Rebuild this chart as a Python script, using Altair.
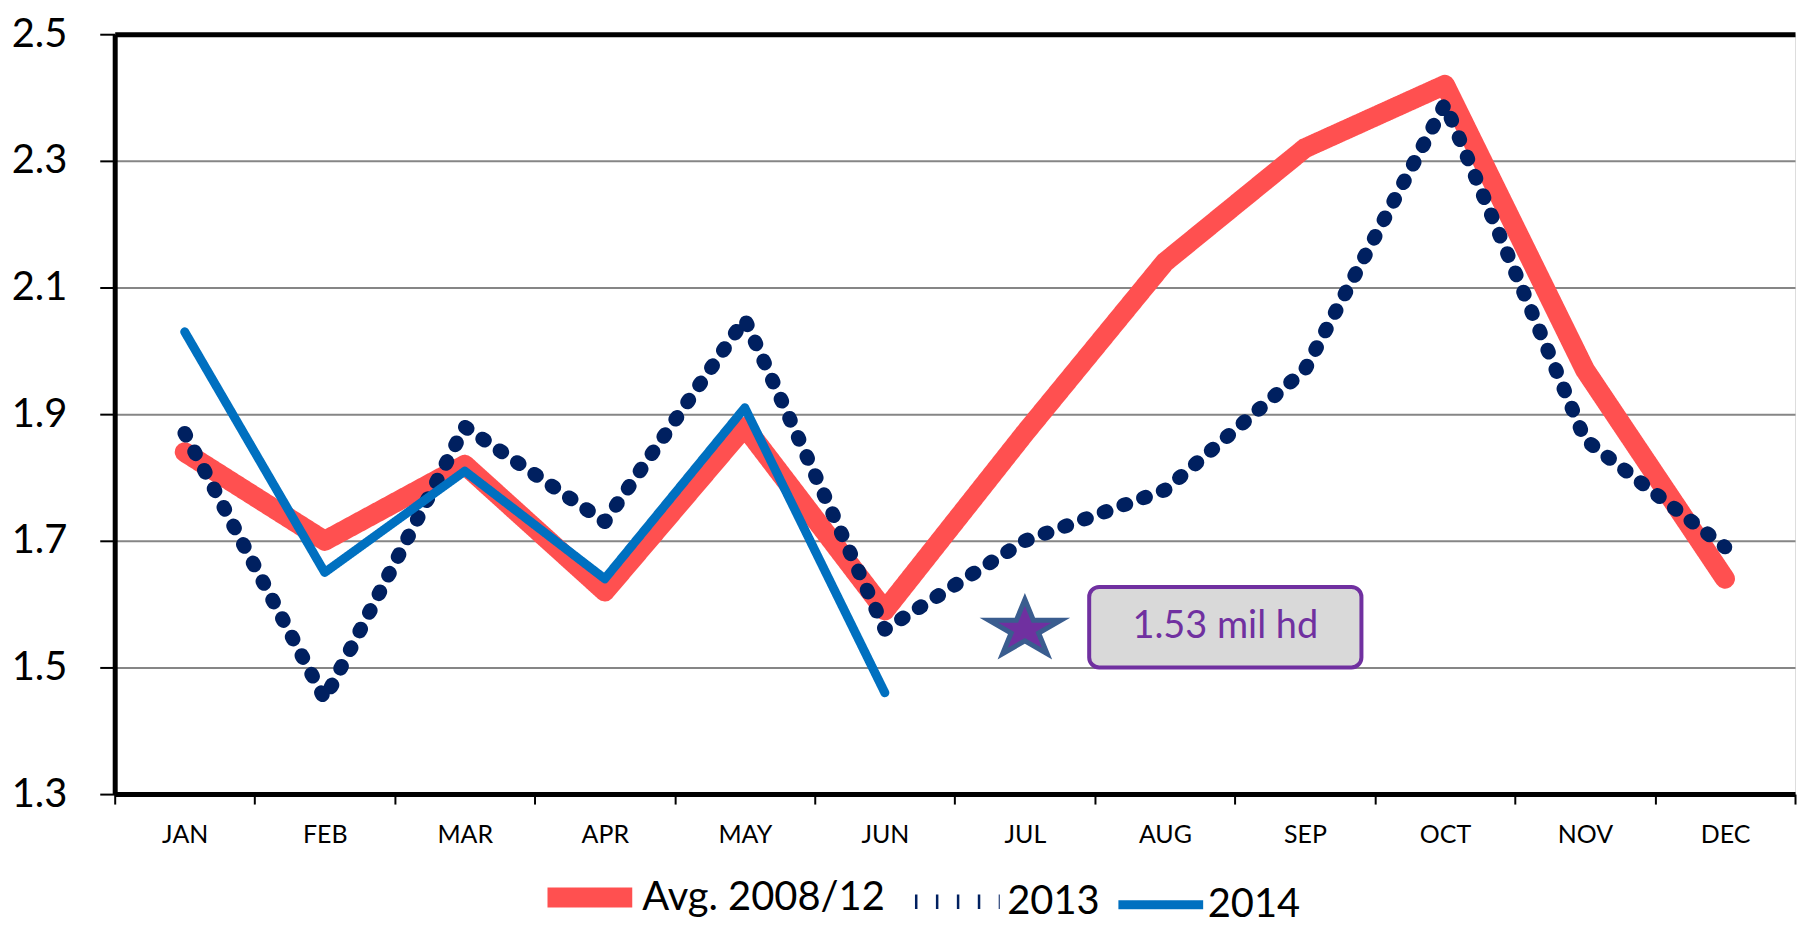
import altair as alt
import pandas as pd

months = ["JAN", "FEB", "MAR", "APR", "MAY", "JUN", "JUL", "AUG", "SEP", "OCT", "NOV", "DEC"]
avg_2008_12 = [1.84, 1.70, 1.82, 1.62, 1.88, 1.59, 1.87, 2.14, 2.32, 2.42, 1.97, 1.64]
y2013 = [1.87, 1.45, 1.88, 1.73, 2.05, 1.56, 1.70, 1.78, 1.97, 2.39, 1.86, 1.69]
y2014 = [2.03, 1.65, 1.81, 1.64, 1.91, 1.46]
series_names = ["Avg. 2008/12", "2013", "2014"]
series_colors = ["#FF5050", "#002060", "#0070C0"]
series_widths = [20, 9, 6]
y_ticks = [1.3, 1.5, 1.7, 1.9, 2.1, 2.3, 2.5]

star_month = "JUL"
star_value = 1.56
note_text = "1.53 mil hd"
note_low = 1.50
note_high = 1.627

rows = []
for name, vals in zip(series_names, [avg_2008_12, y2013, y2014]):
    for m, v in zip(months, vals):
        rows.append({"month": m, "value": v, "series": name})
df = pd.DataFrame(rows)

star_df = pd.DataFrame({"month": [star_month], "value": [star_value]})
note_df = pd.DataFrame({"month": [star_month], "low": [note_low], "high": [note_high],
                        "mid": [(note_low + note_high) / 2], "label": [note_text]})

FONT = "Lato"

x_enc = alt.X("month:N", sort=months, scale=alt.Scale(type="band", domain=months, paddingInner=0, paddingOuter=0),
              axis=alt.Axis(title=None, labelAngle=0, tickBand="extent", labelFont=FONT, labelFontSize=25,
                            labelColor="black", tickColor="black", tickWidth=2, tickSize=10, labelPadding=19,
                            domainColor="black", domainWidth=5, grid=False))
y_scale = alt.Scale(domain=[1.3, 2.5], nice=False, zero=False)
y_enc = alt.Y("value:Q", scale=y_scale,
              axis=alt.Axis(title=None, values=y_ticks, format=".1f", labelFont=FONT, labelFontSize=40,
                            labelColor="black", tickColor="black", tickWidth=2, tickSize=15, labelPadding=33,
                            domainColor="black", domainWidth=5,
                            gridColor=alt.condition("datum.value >= 2.5", alt.value("black"), alt.value("#868686")),
                            gridWidth=alt.condition("datum.value >= 2.5", alt.value(5), alt.value(2))))

legend = alt.Legend(title=None, orient="none", legendX=424, legendY=813, direction="horizontal",
                    labelFont=FONT, labelFontSize=40, labelColor="black", symbolType="stroke",
                    symbolSize=7225, labelOffset=0, columnPadding=0, labelLimit=0)

color_enc = alt.Color("series:N", scale=alt.Scale(domain=series_names, range=series_colors), legend=legend)
dash_enc = alt.StrokeDash("series:N", scale=alt.Scale(domain=series_names, range=[[1, 0], [2.5, 18.5], [1, 0]]),
                          legend=legend)
width_enc = alt.StrokeWidth("series:N", scale=alt.Scale(domain=series_names, range=series_widths), legend=legend)

base = alt.Chart(df)
layers = []
for name in series_names:
    layers.append(
        base.transform_filter(alt.datum.series == name)
        .mark_line(strokeCap="round", strokeJoin="round")
        .encode(x=x_enc, y=y_enc, color=color_enc, strokeDash=dash_enc, strokeWidth=width_enc)
    )

star_path = ("M0,-0.831L0.236,-0.257L1,-0.257L0.382,0.098L0.618,0.672L0,0.317L-0.618,0.672"
             "L-0.382,0.098L-1,-0.257L-0.236,-0.257Z")
star = alt.Chart(star_df).mark_point(shape=star_path, size=5200, filled=True, fill="#7030A0",
                                     stroke="#3A5D8F", strokeWidth=5, opacity=1).encode(
    x=alt.X("month:N", sort=months), y=alt.Y("value:Q"))

box = alt.Chart(note_df).mark_bar(width=273, xOffset=201, cornerRadius=10, fill="#D9D9D9",
                                  stroke="#7030A0", strokeWidth=4).encode(
    x=alt.X("month:N", sort=months), y=alt.Y("low:Q"), y2="high:Q")
txt = alt.Chart(note_df).mark_text(dx=201, font=FONT, fontSize=38, color="#7030A0").encode(
    x=alt.X("month:N", sort=months), y=alt.Y("mid:Q"), text="label:N")

chart = alt.layer(*layers, star, box, txt).properties(
    width=1685, height=762,
    autosize=alt.AutoSizeParams(type="none"),
    padding={"left": 107, "top": 25, "right": 4, "bottom": 134},
).configure_view(stroke="black", strokeWidth=5).configure(background="white")

chart.save("out.html", embed_options={"renderer": "svg", "actions": False})
